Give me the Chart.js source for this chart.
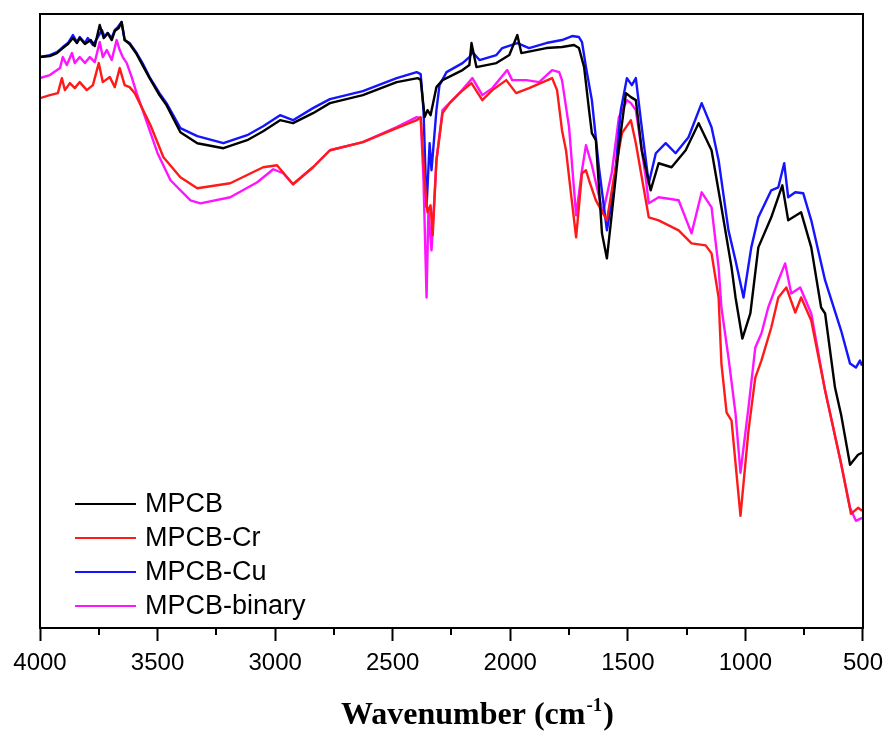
<!DOCTYPE html>
<html>
<head>
<meta charset="utf-8">
<title>FTIR spectra</title>
<script src="https://cdn.jsdelivr.net/npm/chart.js@4.4.1/dist/chart.umd.min.js"></script>
<style>
	html, body { margin: 0; padding: 0; background: #fff; }
	#wrap { width: 891px; height: 731px; }
</style>
</head>
<body>
<div id="wrap"><canvas id="ftir" width="891" height="731"></canvas></div>
<script>
// wavenumber (cm-1) / transmittance (a.u.) pairs for each sample
const mpcbWn = [4000, 3958, 3928, 3903, 3881, 3860, 3843, 3831, 3809, 3784, 3767, 3746, 3729, 3712, 3695, 3682, 3665, 3653, 3640, 3619, 3589, 3564, 3534, 3492, 3462, 3403, 3331, 3220, 3119, 3051, 2979, 2924, 2839, 2767, 2627, 2483, 2394, 2381, 2364, 2352, 2339, 2314, 2288, 2203, 2174, 2165, 2144, 2059, 2004, 1970, 1953, 1847, 1780, 1729, 1708, 1686, 1665, 1653, 1636, 1610, 1589, 1568, 1538, 1508, 1487, 1466, 1441, 1403, 1369, 1314, 1254, 1199, 1144, 1102, 1059, 1042, 1013, 979, 945, 890, 843, 818, 763, 720, 678, 661, 619, 593, 555, 521, 504];
const mpcbT = [57.0, 57.1, 57.4, 57.9, 58.3, 58.9, 58.4, 58.9, 58.3, 58.7, 58.1, 60.2, 58.9, 59.4, 58.7, 59.6, 59.9, 60.5, 58.7, 58.3, 57.3, 56.2, 54.9, 53.2, 52.2, 49.5, 48.4, 47.9, 48.7, 49.6, 50.7, 50.4, 51.4, 52.4, 53.2, 54.5, 54.9, 54.7, 51.0, 51.7, 51.2, 54.0, 54.7, 55.7, 56.2, 58.4, 56.0, 56.4, 57.2, 59.2, 57.4, 57.9, 58.0, 58.2, 57.9, 56.0, 51.7, 49.4, 48.7, 39.4, 36.9, 41.4, 48.0, 53.4, 53.0, 52.7, 47.7, 43.7, 46.4, 46.0, 47.7, 50.4, 47.7, 42.0, 36.0, 33.0, 28.9, 31.4, 38.0, 41.0, 44.2, 40.7, 41.5, 38.0, 32.0, 31.4, 24.0, 21.3, 16.3, 17.3, 17.5];

const crWn = [4000, 3958, 3924, 3907, 3894, 3873, 3852, 3831, 3801, 3775, 3750, 3733, 3703, 3682, 3661, 3640, 3619, 3597, 3576, 3530, 3475, 3403, 3331, 3191, 3051, 2992, 2924, 2839, 2767, 2627, 2483, 2398, 2381, 2364, 2352, 2339, 2330, 2314, 2288, 2258, 2216, 2165, 2119, 2076, 2017, 1975, 1920, 1822, 1801, 1780, 1763, 1742, 1720, 1695, 1678, 1665, 1636, 1589, 1559, 1525, 1487, 1466, 1411, 1369, 1284, 1229, 1169, 1144, 1114, 1102, 1080, 1059, 1021, 987, 958, 932, 890, 860, 826, 788, 763, 720, 661, 593, 551, 521, 504];
const crT = [52.9, 53.2, 53.4, 54.9, 53.7, 54.4, 53.9, 54.5, 53.7, 54.2, 56.4, 54.5, 55.0, 54.0, 55.9, 54.2, 54.0, 53.4, 52.4, 50.2, 47.0, 45.0, 43.9, 44.4, 46.0, 46.2, 44.3, 46.0, 47.7, 48.5, 49.9, 50.7, 51.0, 44.7, 41.5, 42.2, 39.2, 46.7, 51.4, 52.4, 53.4, 54.4, 52.7, 53.7, 54.7, 53.4, 53.9, 54.9, 53.7, 49.7, 47.7, 43.4, 39.0, 45.4, 45.7, 44.7, 42.7, 40.7, 45.0, 49.4, 50.7, 48.4, 41.0, 40.7, 39.7, 38.4, 38.2, 37.4, 33.0, 26.4, 21.5, 20.7, 11.2, 19.7, 25.0, 26.7, 30.0, 33.0, 34.0, 31.5, 33.0, 30.7, 23.7, 16.4, 11.4, 12.0, 11.7];

const cuWn = [4000, 3958, 3928, 3903, 3881, 3860, 3843, 3831, 3809, 3797, 3775, 3754, 3737, 3725, 3712, 3695, 3682, 3669, 3653, 3640, 3619, 3589, 3564, 3534, 3492, 3462, 3403, 3331, 3220, 3119, 3051, 2979, 2924, 2839, 2767, 2627, 2483, 2398, 2381, 2369, 2356, 2343, 2335, 2314, 2301, 2271, 2203, 2174, 2161, 2131, 2059, 2034, 1970, 1920, 1847, 1780, 1737, 1708, 1695, 1678, 1653, 1623, 1589, 1559, 1530, 1504, 1483, 1466, 1441, 1411, 1381, 1339, 1297, 1242, 1186, 1144, 1114, 1072, 1042, 1008, 975, 945, 890, 860, 835, 818, 788, 754, 720, 661, 593, 555, 530, 513, 504];
const cuT = [57.0, 57.2, 57.5, 58.0, 58.4, 59.2, 58.5, 59.0, 58.4, 58.9, 58.2, 59.0, 59.7, 59.0, 59.4, 58.9, 59.7, 60.0, 60.5, 58.7, 58.4, 57.4, 56.4, 55.0, 53.4, 52.4, 49.9, 49.1, 48.4, 49.2, 50.1, 51.2, 50.7, 51.9, 52.8, 53.6, 54.9, 55.5, 55.3, 51.7, 42.0, 48.4, 45.7, 51.7, 54.2, 55.5, 56.4, 57.0, 57.5, 56.7, 57.2, 57.9, 58.4, 57.9, 58.4, 58.7, 59.1, 59.0, 58.5, 56.0, 52.7, 46.0, 39.7, 44.0, 51.7, 54.9, 54.2, 54.9, 50.0, 44.4, 47.4, 48.4, 47.4, 49.0, 52.4, 50.0, 46.7, 39.7, 36.7, 33.0, 38.0, 41.0, 43.7, 44.0, 46.4, 43.0, 43.5, 43.4, 40.7, 34.7, 29.7, 26.4, 26.0, 26.7, 26.2];

const binaryWn = [4000, 3958, 3915, 3903, 3886, 3864, 3852, 3831, 3809, 3788, 3767, 3746, 3733, 3716, 3695, 3674, 3661, 3648, 3631, 3610, 3589, 3568, 3500, 3445, 3360, 3318, 3191, 3076, 3008, 2966, 2924, 2839, 2767, 2627, 2483, 2398, 2381, 2369, 2356, 2348, 2335, 2314, 2288, 2216, 2161, 2119, 2076, 2013, 1992, 1932, 1877, 1822, 1792, 1780, 1750, 1720, 1695, 1678, 1653, 1606, 1568, 1538, 1504, 1487, 1466, 1424, 1411, 1369, 1284, 1229, 1186, 1144, 1114, 1102, 1072, 1042, 1021, 987, 958, 932, 903, 860, 831, 805, 767, 720, 661, 593, 555, 530, 504];
const binaryT = [54.9, 55.2, 55.9, 57.0, 56.2, 57.4, 56.4, 57.0, 56.4, 57.0, 56.5, 58.5, 57.0, 57.7, 56.7, 58.7, 57.7, 57.0, 56.4, 55.0, 53.4, 52.0, 47.4, 44.7, 42.7, 42.4, 43.0, 44.5, 45.8, 45.4, 44.3, 46.0, 47.7, 48.5, 50.0, 51.0, 50.9, 44.7, 33.0, 41.7, 37.7, 46.7, 51.7, 53.4, 54.9, 53.2, 53.9, 55.7, 54.7, 54.7, 54.5, 55.7, 55.5, 54.7, 50.0, 41.2, 45.7, 48.2, 46.2, 41.4, 45.5, 51.0, 52.7, 52.4, 51.7, 45.0, 42.4, 43.0, 42.7, 39.4, 43.5, 42.0, 36.0, 32.0, 27.0, 21.4, 15.5, 22.0, 28.0, 29.4, 32.0, 34.7, 36.4, 33.4, 34.0, 31.4, 23.7, 16.4, 12.0, 10.7, 11.0];

const seriesNames = ['MPCB', 'MPCB-Cr', 'MPCB-Cu', 'MPCB-binary'];
const seriesColors = ['#000000', '#ff1a1a', '#1414ff', '#ff14ff'];
const xTicks = [4000, 3500, 3000, 2500, 2000, 1500, 1000, 500];
const xMinorTicks = [3750, 3250, 2750, 2250, 1750, 1250, 750];

function toPoints(wn, t) {
	return wn.map(function(x, i) {
		return {x: x, y: t[i]};
	});
}

const spectra = [[mpcbWn, mpcbT], [crWn, crT], [cuWn, cuT], [binaryWn, binaryT]];

// closed box round the plot plus the short minor ticks on the x axis
const framePlugin = {
	id: 'frame',
	afterDraw: function(chart) {
		const ctx = chart.ctx;
		const a = chart.chartArea;
		const xs = chart.scales.x;
		ctx.save();
		ctx.strokeStyle = '#000';
		ctx.lineWidth = 2;
		ctx.strokeRect(a.left, a.top, a.right - a.left, a.bottom - a.top);
		ctx.beginPath();
		xMinorTicks.forEach(function(v) {
			const px = Math.round(xs.getPixelForValue(v));
			ctx.moveTo(px, a.bottom);
			ctx.lineTo(px, a.bottom + 7);
		});
		ctx.stroke();
		ctx.restore();
	}
};

// legend inside the lower left corner of the plot
const legendPlugin = {
	id: 'innerLegend',
	afterDraw: function(chart) {
		const ctx = chart.ctx;
		const a = chart.chartArea;
		const x0 = a.left + 35;
		const y0 = 504;
		const rowH = 34;
		ctx.save();
		ctx.font = '27px "Liberation Sans", Arial, sans-serif';
		ctx.textBaseline = 'middle';
		ctx.fillStyle = '#000';
		chart.data.datasets.forEach(function(ds, i) {
			const y = y0 + i * rowH;
			ctx.strokeStyle = ds.borderColor;
			ctx.lineWidth = 2;
			ctx.beginPath();
			ctx.moveTo(x0, y);
			ctx.lineTo(x0 + 61, y);
			ctx.stroke();
			ctx.fillText(ds.label, x0 + 70, y + 1);
		});
		ctx.restore();
	}
};

// x axis title with a raised "-1"
const axisTitlePlugin = {
	id: 'axisTitle',
	afterDraw: function(chart) {
		const ctx = chart.ctx;
		const a = chart.chartArea;
		const main = 'Wavenumber (cm';
		const sup = '-1';
		const tail = ')';
		const bigFont = 'bold 32px "Liberation Serif", "Times New Roman", serif';
		const smallFont = 'bold 19px "Liberation Serif", "Times New Roman", serif';
		ctx.save();
		ctx.fillStyle = '#000';
		ctx.textBaseline = 'alphabetic';
		ctx.font = bigFont;
		const w1 = ctx.measureText(main).width;
		const w3 = ctx.measureText(tail).width;
		ctx.font = smallFont;
		const w2 = ctx.measureText(sup).width;
		const total = w1 + w2 + w3 + 2;
		let x = (a.left + a.right) / 2 + 26 - total / 2;
		const base = 724;
		ctx.font = bigFont;
		ctx.fillText(main, x, base);
		x += w1 + 1;
		ctx.font = smallFont;
		ctx.fillText(sup, x, base - 13);
		x += w2 + 1;
		ctx.font = bigFont;
		ctx.fillText(tail, x, base);
		ctx.restore();
	}
};

const chart = new Chart(document.getElementById('ftir').getContext('2d'), {
	type: 'line',
	data: {
		datasets: spectra.map(function(s, i) {
			return {
				label: seriesNames[i],
				data: toPoints(s[0], s[1]),
				borderColor: seriesColors[i],
				borderWidth: 2.4,
				pointRadius: 0,
				tension: 0,
				borderJoinStyle: 'round',
				fill: false
			};
		})
	},
	options: {
		responsive: false,
		animation: false,
		events: [],
		layout: {
			padding: {top: 14, right: 26, left: 0, bottom: 0}
		},
		plugins: {
			legend: {display: false},
			tooltip: {enabled: false},
			title: {display: false}
		},
		scales: {
			x: {
				type: 'linear',
				reverse: true,
				min: 500,
				max: 4000,
				afterFit: function(scale) {
					scale.height = 103;
				},
				afterBuildTicks: function(scale) {
					scale.ticks = xTicks.map(function(v) {
						return {value: v};
					});
				},
				ticks: {
					color: '#000',
					maxRotation: 0,
					autoSkip: false,
					padding: 8,
					font: {family: '"Liberation Sans", Arial, sans-serif', size: 24},
					callback: function(v) {
						return String(v);
					}
				},
				grid: {
					display: true,
					drawOnChartArea: false,
					tickLength: 13,
					tickWidth: 2,
					tickColor: '#000'
				},
				border: {display: true, color: '#000', width: 2}
			},
			y: {
				min: 0,
				max: 61.3,
				afterFit: function(scale) {
					scale.width = 40;
				},
				ticks: {display: false},
				grid: {display: false, drawTicks: false},
				border: {display: true, color: '#000', width: 2}
			}
		}
	},
	plugins: [framePlugin, legendPlugin, axisTitlePlugin]
});
</script>
</body>
</html>
